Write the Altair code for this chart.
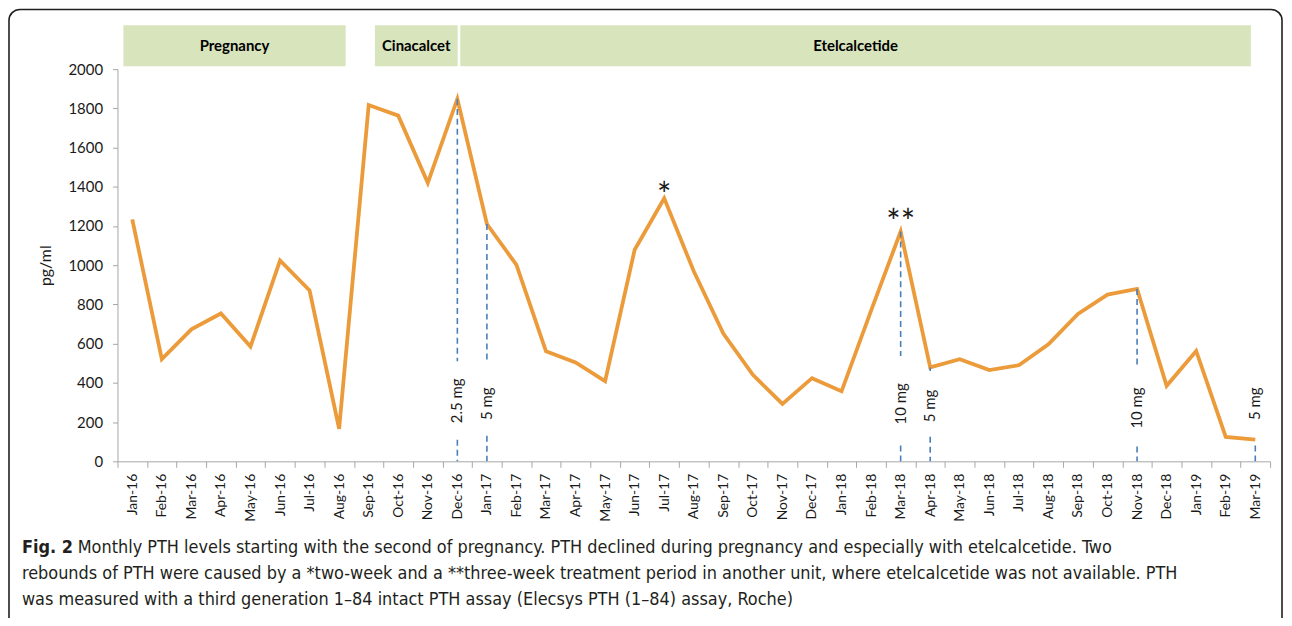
import altair as alt
import pandas as pd

# ---------------- data ----------------
months = ["Jan-16", "Feb-16", "Mar-16", "Apr-16", "May-16", "Jun-16", "Jul-16", "Aug-16",
          "Sep-16", "Oct-16", "Nov-16", "Dec-16",
          "Jan-17", "Feb-17", "Mar-17", "Apr-17", "May-17", "Jun-17", "Jul-17", "Aug-17",
          "Sep-17", "Oct-17", "Nov-17", "Dec-17",
          "Jan-18", "Feb-18", "Mar-18", "Apr-18", "May-18", "Jun-18", "Jul-18", "Aug-18",
          "Sep-18", "Oct-18", "Nov-18", "Dec-18",
          "Jan-19", "Feb-19", "Mar-19"]
pth = [1234, 521, 673, 754, 585, 1024, 871, 166, 1817, 1763, 1420, 1848,
       1210, 1002, 561, 504, 409, 1079, 1341, 969, 651, 441, 293, 424,
       357, 768, 1172, 479, 521, 465, 490, 597, 752, 850, 879, 385,
       563, 124, 110]
y_ticks = [0, 200, 400, 600, 800, 1000, 1200, 1400, 1600, 1800, 2000]

# treatment phases (in month-slot units along the x axis)
phase_names = ["Pregnancy", "Cinacalcet", "Etelcalcetide"]
phase_start = [0.2, 8.71, 11.6]
phase_end = [7.72, 11.51, 38.35]

# etelcalcetide dose changes
dose_months = ["Dec-16", "Jan-17", "Mar-18", "Apr-18", "Nov-18", "Mar-19"]
dose_labels = ["2.5 mg", "5 mg", "10 mg", "5 mg", "10 mg", "5 mg"]
dose_upper_from = [1848, 1210, 1172, 479, 879, None]
dose_upper_to = [510, 510, 537, 461, 487, None]
dose_label_at = [308, 293, 293, 282, 272, 293]
dose_lower_from = [110, 130, 80, 125, 75, 80]

# rebound markers
star_months = ["Jul-17", "Mar-18"]
star_text = ["*", "**"]
star_at = [1298, 1160]

caption_bold = "Fig. 2"
caption_line1 = ("Monthly PTH levels starting with the second of pregnancy. PTH declined during "
                 "pregnancy and especially with etelcalcetide. Two")
caption_line2 = ("rebounds of PTH were caused by a *two-week and a **three-week treatment period in "
                 "another unit, where etelcalcetide was not available. PTH")
caption_line3 = "was measured with a third generation 1–84 intact PTH assay (Elecsys PTH (1–84) assay, Roche)"

# ---------------- tables ----------------
df = pd.DataFrame({"month": months, "pth": pth})
doses = pd.DataFrame({"month": dose_months, "label": dose_labels,
                      "up_from": dose_upper_from, "up_to": dose_upper_to,
                      "label_at": dose_label_at, "low_from": dose_lower_from})
doses_up = doses.dropna(subset=["up_from"])
stars = pd.DataFrame({"month": star_months, "text": star_text, "at": star_at})
phases = pd.DataFrame({"name": phase_names, "start": phase_start, "end": phase_end})
one = pd.DataFrame({"k": [0]})

W, H = 1158, 394
FONT = "Lato"
CAP_FONT = "Liberation Sans Narrow, DejaVu Sans Condensed, Noto Sans, sans-serif"
TXT = "#1a1a1a"
AXC = "#a6a6a6"
ORANGE = "#EC9B3B"
BLUE = "#4A7EBB"


def xenc():
    return alt.X(
        "month:N", sort=months, bandPosition=0.5,
        scale=alt.Scale(type="band", domain=months, paddingInner=0, paddingOuter=0),
        axis=alt.Axis(title=None, labelAngle=270, tickBand="extent", labelFont=FONT,
                      labelFontSize=14, labelColor=TXT, domainColor=AXC, tickColor=AXC,
                      tickSize=6, labelPadding=6, labelOverlap=False),
    )


def yenc(field):
    return alt.Y(
        field, scale=alt.Scale(domain=[0, 2000], nice=False),
        axis=alt.Axis(values=y_ticks, format="d", labelOverlap=False, title="pg/ml", grid=False,
                      labelFont=FONT, labelFontSize=15, labelColor=TXT,
                      titleFont=FONT, titleFontSize=16, titleFontWeight="normal",
                      titleColor=TXT, titlePadding=14, domainColor=AXC, tickColor=AXC,
                      tickSize=5, labelPadding=10),
    )


line = alt.Chart(df).mark_line(color=ORANGE, strokeWidth=3.8, strokeJoin="miter").encode(
    x=xenc(), y=yenc("pth:Q"))

rule_up = alt.Chart(doses_up).mark_rule(color=BLUE, strokeWidth=1.6, strokeDash=[6, 4]).encode(
    x=xenc(), y=yenc("up_from:Q"), y2="up_to:Q")
rule_low = alt.Chart(doses).mark_rule(color=BLUE, strokeWidth=1.6, strokeDash=[6, 4]).encode(
    x=xenc(), y=yenc("low_from:Q"), y2=alt.datum(0))
dose_text = alt.Chart(doses).mark_text(angle=270, font=FONT, fontSize=15, color=TXT,
                                       align="center", baseline="middle").encode(
    x=xenc(), y=yenc("label_at:Q"), text="label:N")
star_marks = alt.Chart(stars).mark_text(font=FONT, fontSize=34, color=TXT, align="center",
                                        baseline="alphabetic").encode(
    x=xenc(), y=yenc("at:Q"), text="text:N")

main = alt.layer(line, rule_up, rule_low, dose_text, star_marks)

pscale = alt.Scale(domain=[0, 39], nice=False, zero=False)
band_rect = alt.Chart(phases).mark_rect(color="#D8E4BC").encode(
    x=alt.X("start:Q", scale=pscale, axis=None), x2="end:Q",
    y=alt.value(-44), y2=alt.value(-3))
band_text = alt.Chart(phases).transform_calculate(mid="(datum.start + datum.end) / 2").mark_text(
    font=FONT, fontSize=15, fontWeight="bold", color="#000000", baseline="middle").encode(
    x=alt.X("mid:Q", scale=pscale, axis=None), y=alt.value(-23), text="name:N")
bands = alt.layer(band_rect, band_text)

frame = alt.Chart(one).mark_rect(fill=None, fillOpacity=0, stroke="#231f20", strokeWidth=1.6,
                                 cornerRadius=11).encode(
    x=alt.value(-109), x2=alt.value(1170), y=alt.value(-60), y2=alt.value(620))

cap_kw = dict(font=CAP_FONT, fontSize=18, color="#231f20", align="left", baseline="middle")
cap_a = alt.Chart(one).mark_text(text=caption_bold, fontWeight="bold", **cap_kw).encode(
    x=alt.value(-96), y=alt.value(481))
cap_b = alt.Chart(one).mark_text(text=caption_line1, **cap_kw).encode(
    x=alt.value(-40), y=alt.value(481))
cap_c = alt.Chart(one).mark_text(text=caption_line2, **cap_kw).encode(
    x=alt.value(-96), y=alt.value(507))
cap_d = alt.Chart(one).mark_text(text=caption_line3, **cap_kw).encode(
    x=alt.value(-96), y=alt.value(533))
decor = alt.layer(frame, cap_a, cap_b, cap_c, cap_d)

chart = alt.layer(main, bands, decor).resolve_scale(x="independent").properties(
    width=W, height=H,
    autosize=alt.AutoSizeParams(type="none"),
    padding={"left": 110, "top": 60, "right": 14, "bottom": 156},
    background="white",
).configure_view(stroke=None).configure_axisY(labelOverlap=False)

chart.save("out.html", embed_options={"renderer": "svg", "actions": False})
